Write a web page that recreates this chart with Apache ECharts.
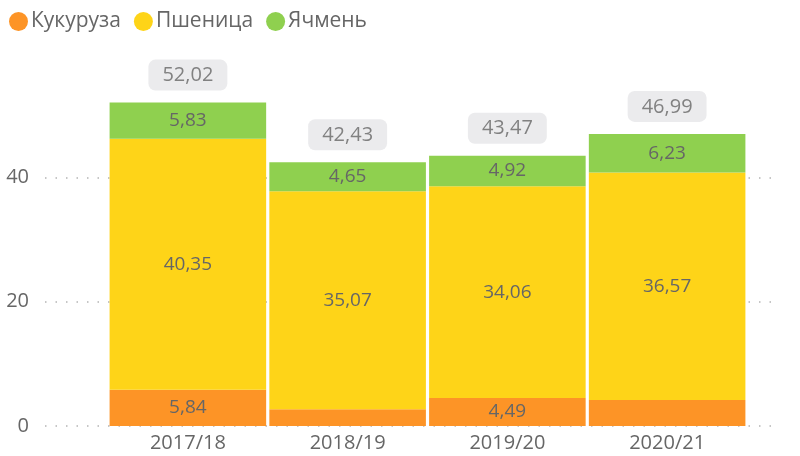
<!DOCTYPE html>
<html>
<head>
<meta charset="utf-8">
<script src="https://cdn.jsdelivr.net/npm/echarts@6/dist/echarts.min.js"></script>
<style>
  html, body { margin: 0; padding: 0; background: #fff; }
  #chart { width: 800px; height: 456px; }
</style>
</head>
<body>
<div id="chart"></div>
<script>
const seasons = ['2017/18', '2018/19', '2019/20', '2020/21']
const corn = [5.84, 2.71, 4.49, 4.19]
const wheat = [40.35, 35.07, 34.06, 36.57]
const barley = [5.83, 4.65, 4.92, 6.23]
const yTicks = [0, 20, 40]

const font = 'Open Sans'
const textColor = '#666666'
const fmt = (v) => v.toFixed(2).replace('.', ',')
const totals = seasons.map((_, i) => +(corn[i] + wheat[i] + barley[i]).toFixed(2))

const chart = echarts.init(document.getElementById('chart'))

function segment(name, values, color) {
    return {
        name: name,
        type: 'bar',
        stack: 'total',
        xAxisIndex: 0,
        yAxisIndex: 0,
        barCategoryGap: '2%',
        itemStyle: { color: color },
        label: {
            show: true,
            position: 'inside',
            color: textColor,
            fontFamily: font,
            fontSize: 19,
            formatter: (p) => fmt(p.value),
        },
        // labels that don't fit in small segments are hidden
        data: values.map((v) => ({ value: v, label: { show: v >= 4.3 } })),
    }
}

const option = {
    animation: false,
    legend: {
        left: 4,
        top: 6,
        icon: 'circle',
        itemWidth: 19,
        itemHeight: 19,
        itemGap: 13,
        textStyle: { color: textColor, fontFamily: font, fontSize: 21, padding: [0, 0, 0, -2] },
        data: ['Кукуруза', 'Пшеница', 'Ячмень'],
    },
    grid: [
        { left: 108, right: 53, top: 53, bottom: 30 },
        { left: 45, right: 20, top: 53, bottom: 30 },
    ],
    xAxis: [
        {
            type: 'category',
            gridIndex: 0,
            data: seasons,
            axisLine: { show: false },
            axisTick: { show: false },
            axisLabel: { color: textColor, fontFamily: font, fontSize: 20, margin: 7 },
        },
        { type: 'value', gridIndex: 1, min: 0, max: 1, show: false },
    ],
    yAxis: [
        { type: 'value', gridIndex: 0, min: 0, max: 60, show: false },
        {
            type: 'value',
            gridIndex: 1,
            min: 0,
            max: 60,
            interval: 20,
            axisLine: { show: false },
            axisTick: { show: false },
            axisLabel: {
                color: textColor,
                fontFamily: font,
                fontSize: 20,
                margin: 16,
                showMaxLabel: false,
                formatter: (v) => (yTicks.includes(v) ? String(v) : ''),
            },
            splitLine: {
                showMaxLine: false,
                lineStyle: { color: '#b4b4b4', type: [1.5, 9], width: 1.5 },
            },
        },
    ],
    series: [
        segment('Кукуруза', corn, '#FD9426'),
        segment('Пшеница', wheat, '#FED418'),
        segment('Ячмень', barley, '#8FD04F'),
        {
            name: 'total',
            type: 'scatter',
            xAxisIndex: 0,
            yAxisIndex: 0,
            symbolSize: 2,
            itemStyle: { color: 'rgba(0,0,0,0)' },
            silent: true,
            z: 5,
            label: {
                show: true,
                position: 'top',
                distance: 11,
                color: textColor,
                fontFamily: font,
                fontSize: 20,
                backgroundColor: '#e6e6e8',
                borderRadius: 7,
                padding: [6, 14, 5, 14],
                formatter: (p) => fmt(p.value),
            },
            data: totals,
        },
    ],
}

chart.setOption(option)
</script>
</body>
</html>
